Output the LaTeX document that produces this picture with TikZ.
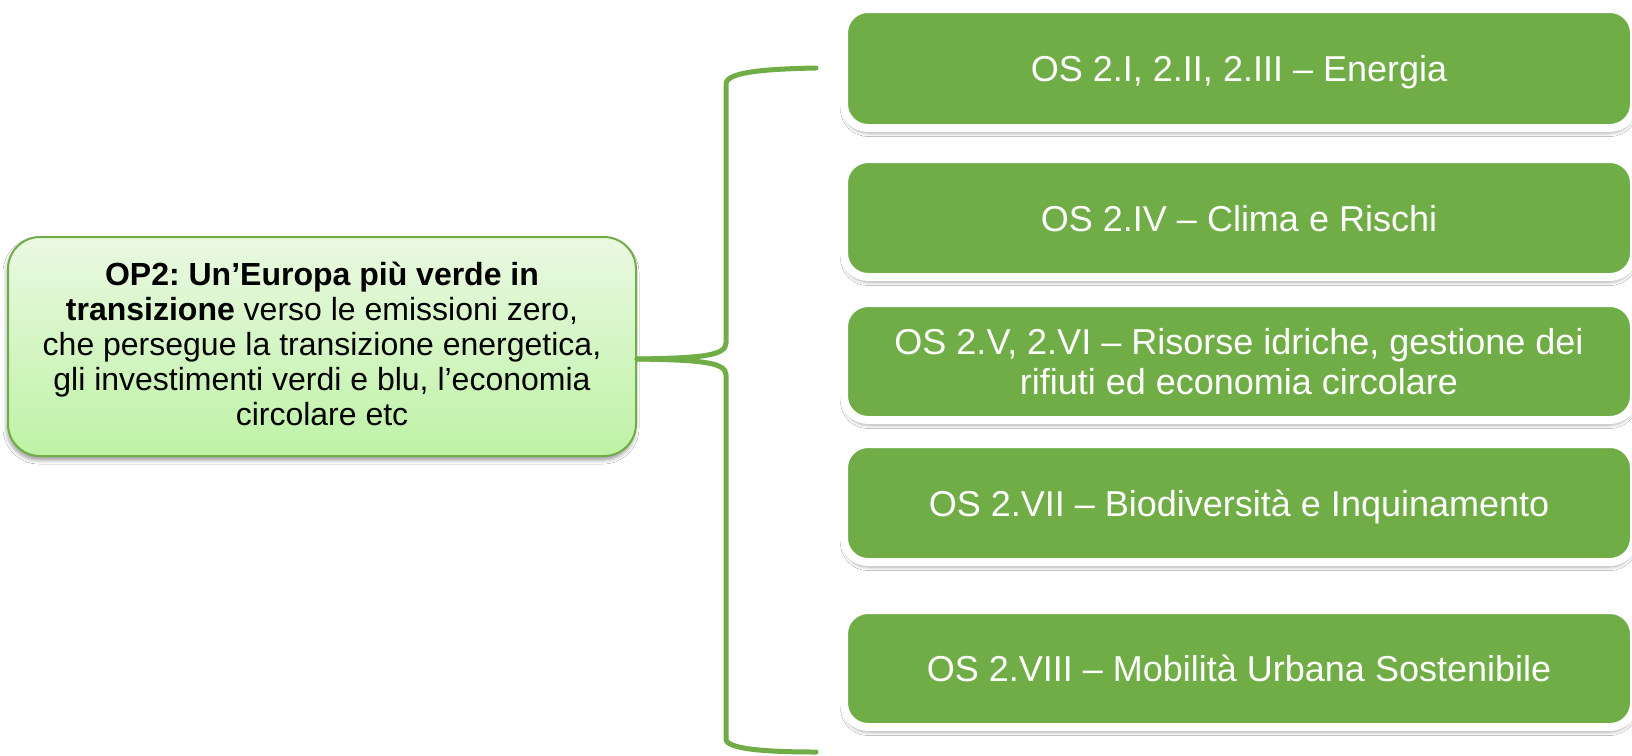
\documentclass[tikz,border=0pt]{standalone}
\usepackage{fontspec}
\setmainfont{Liberation Sans}
\frenchspacing
\usetikzlibrary{shadows.blur,calc}
\definecolor{grn}{HTML}{70AD47}
\definecolor{lgtop}{HTML}{EAF9E2}
\definecolor{lgbot}{HTML}{BEF2A5}
\tikzset{
  osbox/.style={draw=white, line width=8pt, fill=grn, rounded corners=24pt,
    minimum width=790pt, text=white, align=center, inner sep=0pt, text depth=-6pt,
    font=\fontsize{36}{40}\selectfont,
    blur shadow={shadow xshift=0pt, shadow yshift=-5pt, shadow blur radius=3.5pt, shadow opacity=35}},
  opbox/.style={draw=grn, line width=2pt, top color=lgtop, bottom color=lgbot,
    rounded corners=32pt, minimum width=628pt, minimum height=219pt,
    align=center, inner sep=0pt, text depth=6pt, font=\fontsize{32}{35}\selectfont,
    blur shadow={shadow xshift=-1pt, shadow yshift=-4pt, shadow blur radius=4pt, shadow opacity=40}},
  link/.style={draw=grn, line width=5pt, line cap=round}
}
\begin{document}
\begin{tikzpicture}[x=1pt, y=-1pt]
\useasboundingbox (0,0) rectangle (1632,755);
\fill[white] (0,0) rectangle (1632,755);

\node[opbox] (op) at (322,346.5) {\textbf{OP2: Un’Europa più verde in}\\\textbf{transizione} verso le emissioni zero,\\che persegue la transizione energetica,\\gli investimenti verdi e blu, l’economia\\circolare etc};

\node[osbox, minimum height=119pt] (os1) at (1239,68.5) {OS 2.I, 2.II, 2.III – Energia};
\node[osbox, minimum height=118pt] (os2) at (1239,218) {OS 2.IV – Clima e Rischi};
\node[osbox, minimum height=117pt] (os3) at (1239,361.5) {OS 2.V, 2.VI – Risorse idriche, gestione dei\\rifiuti ed economia circolare};
\node[osbox, minimum height=118pt] (os4) at (1239,503) {OS 2.VII – Biodiversità e Inquinamento};
\node[osbox, minimum height=117pt] (os5) at (1239,668.5) {OS 2.VIII – Mobilità Urbana Sostenibile};

\coordinate (root) at ($(op.east)+(0,12.5)$);
\coordinate (topend) at (816,68);
\coordinate (botend) at (816,752);

\draw[link] (root) .. controls (700,358) and (726,356) .. (726,343) -- (726,84) .. controls (726,72) and (765,69) .. (topend);
\draw[link] (root) .. controls (700,360) and (726,362) .. (726,375) -- (726,739) .. controls (726,749) and (765,752) .. (botend);
\end{tikzpicture}
\end{document}
